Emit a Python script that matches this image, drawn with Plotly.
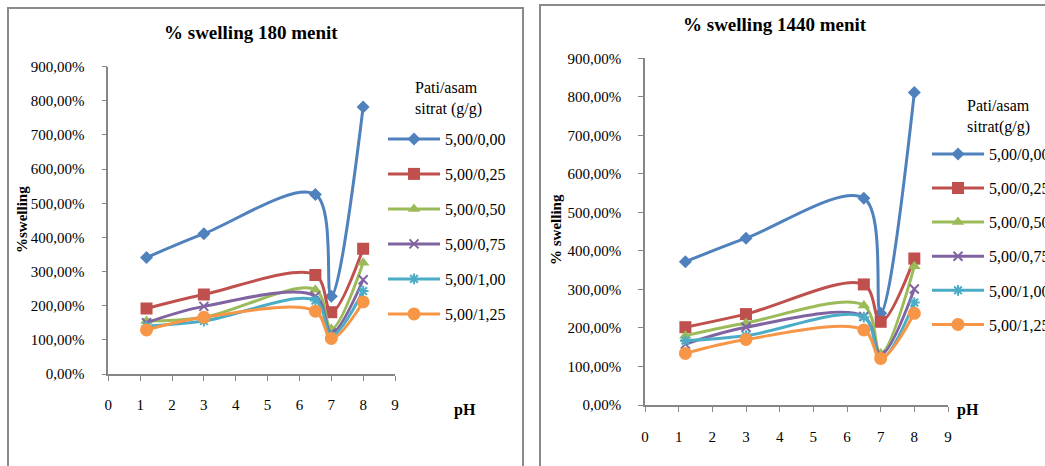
import plotly.graph_objects as go

# pH values shared by both charts
ph = [1.2, 3, 6.5, 7, 8]

# Starch / citric acid ratios (g/g)
ratios = ["5,00/0,00", "5,00/0,25", "5,00/0,50", "5,00/0,75", "5,00/1,00", "5,00/1,25"]

# % swelling after 180 minutes
sw180_000 = [341, 411, 526, 228, 782]
sw180_025 = [192, 233, 290, 181, 367]
sw180_050 = [155, 166, 247, 132, 326]
sw180_075 = [150, 198, 228, 120, 276]
sw180_100 = [140, 155, 215, 112, 243]
sw180_125 = [129, 166, 184, 104, 211]

# % swelling after 1440 minutes
sw1440_000 = [372, 433, 537, 238, 811]
sw1440_025 = [202, 236, 313, 216, 380]
sw1440_050 = [180, 213, 258, 134, 360]
sw1440_075 = [158, 202, 230, 130, 301]
sw1440_100 = [167, 180, 228, 118, 266]
sw1440_125 = [134, 170, 195, 121, 238]

series180 = [sw180_000, sw180_025, sw180_050, sw180_075, sw180_100, sw180_125]
series1440 = [sw1440_000, sw1440_025, sw1440_050, sw1440_075, sw1440_100, sw1440_125]

x_ticks = [0, 1, 2, 3, 4, 5, 6, 7, 8, 9]
y_ticks = [0, 100, 200, 300, 400, 500, 600, 700, 800, 900]
y_tick_labels = ["0,00%", "100,00%", "200,00%", "300,00%", "400,00%",
                 "500,00%", "600,00%", "700,00%", "800,00%", "900,00%"]

colors = ["#4F81BD", "#C0504D", "#9BBB59", "#8064A2", "#4BACC6", "#F79646"]
symbols = ["diamond", "square", "triangle-up", "x-thin-open", "asterisk-open", "circle"]
sizes = [10, 12, 11, 9, 9, 13]

FONT = "Liberation Serif, Times New Roman, serif"
W, H = 1045, 466

fig = go.Figure()


def add_series(values_list, xa, ya, legend_name):
    for i, vals in enumerate(values_list):
        line_sym = symbols[i].endswith("-open")
        fig.add_trace(go.Scatter(
            x=ph, y=vals, name=ratios[i],
            mode="lines+markers",
            line=dict(color=colors[i], width=3, shape="spline", smoothing=1.0),
            marker=dict(symbol=symbols[i], size=sizes[i], color=colors[i],
                        line=dict(color=colors[i], width=2 if line_sym else 0)),
            xaxis=xa, yaxis=ya, legend=legend_name,
            legendgroup=legend_name + str(i),
        ))


add_series(series180, "x", "y", "legend")
add_series(series1440, "x2", "y2", "legend2")

axis_common = dict(
    showline=True, linecolor="#868686", linewidth=1.5,
    ticks="outside", ticklen=5, tickcolor="#868686", tickwidth=1,
    showgrid=False, zeroline=False,
    tickfont=dict(family=FONT, size=15, color="black"),
)

legend_common = dict(
    xanchor="left", yanchor="top", traceorder="grouped", itemwidth=52,
    font=dict(family=FONT, size=16, color="black"), bgcolor="rgba(0,0,0,0)",
)

fig.update_layout(
    width=W, height=H,
    margin=dict(l=0, r=0, t=0, b=0, autoexpand=False),
    paper_bgcolor="white", plot_bgcolor="white",
    showlegend=True,
    xaxis=dict(domain=[108.3 / W, 395 / W], range=[0, 9], tickvals=x_ticks,
               ticklabelstandoff=11, **axis_common),
    yaxis=dict(domain=[(H - 374) / H, (H - 66.7) / H], range=[0, 900],
               tickvals=y_ticks, ticktext=y_tick_labels, ticklabelstandoff=14, **axis_common),
    xaxis2=dict(domain=[645 / W, 948 / W], range=[0, 9], tickvals=x_ticks,
                ticklabelstandoff=12, anchor="y2", **axis_common),
    yaxis2=dict(domain=[(H - 405) / H, (H - 58.3) / H], range=[0, 900],
                tickvals=y_ticks, ticktext=y_tick_labels, ticklabelstandoff=14,
                anchor="x2", **axis_common),
    legend=dict(x=383 / W, y=(H - 122) / H, tracegroupgap=11.2, **legend_common),
    legend2=dict(x=927 / W, y=(H - 137) / H, tracegroupgap=10.3, **legend_common),
)

# panel frames
fig.add_shape(type="rect", xref="paper", yref="paper",
              x0=8 / W, x1=523 / W, y0=-0.1, y1=(H - 8) / H,
              line=dict(color="#8a8a8a", width=2), layer="below")
fig.add_shape(type="rect", xref="paper", yref="paper",
              x0=540 / W, x1=1.1, y0=-0.1, y1=(H - 5) / H,
              line=dict(color="#8a8a8a", width=2), layer="below")


def text(x, y, s, size=15, bold=False, angle=0, xanchor="center", align="center"):
    fig.add_annotation(
        x=x / W, y=(H - y) / H, xref="paper", yref="paper",
        text=f"<b>{s}</b>" if bold else s, showarrow=False, textangle=angle,
        xanchor=xanchor, yanchor="middle", align=align,
        font=dict(family=FONT, size=size, color="black"),
    )


# titles
text(251, 32, "% swelling 180 menit", size=19, bold=True)
text(775, 24, "% swelling 1440 menit", size=19, bold=True)

# axis titles
text(22, 220, "%swelling", size=15, bold=True, angle=-90)
text(556, 230, "% swelling", size=15, bold=True, angle=-90)
text(465, 410, "pH", size=16, bold=True)
text(968, 410, "pH", size=16, bold=True)

# legend headings
text(413, 99, "Pati/asam<br>sitrat (g/g)", size=16, xanchor="left", align="left")
text(965, 116, "Pati/asam<br>sitrat(g/g)", size=16, xanchor="left", align="left")

fig.write_html("out.html")
